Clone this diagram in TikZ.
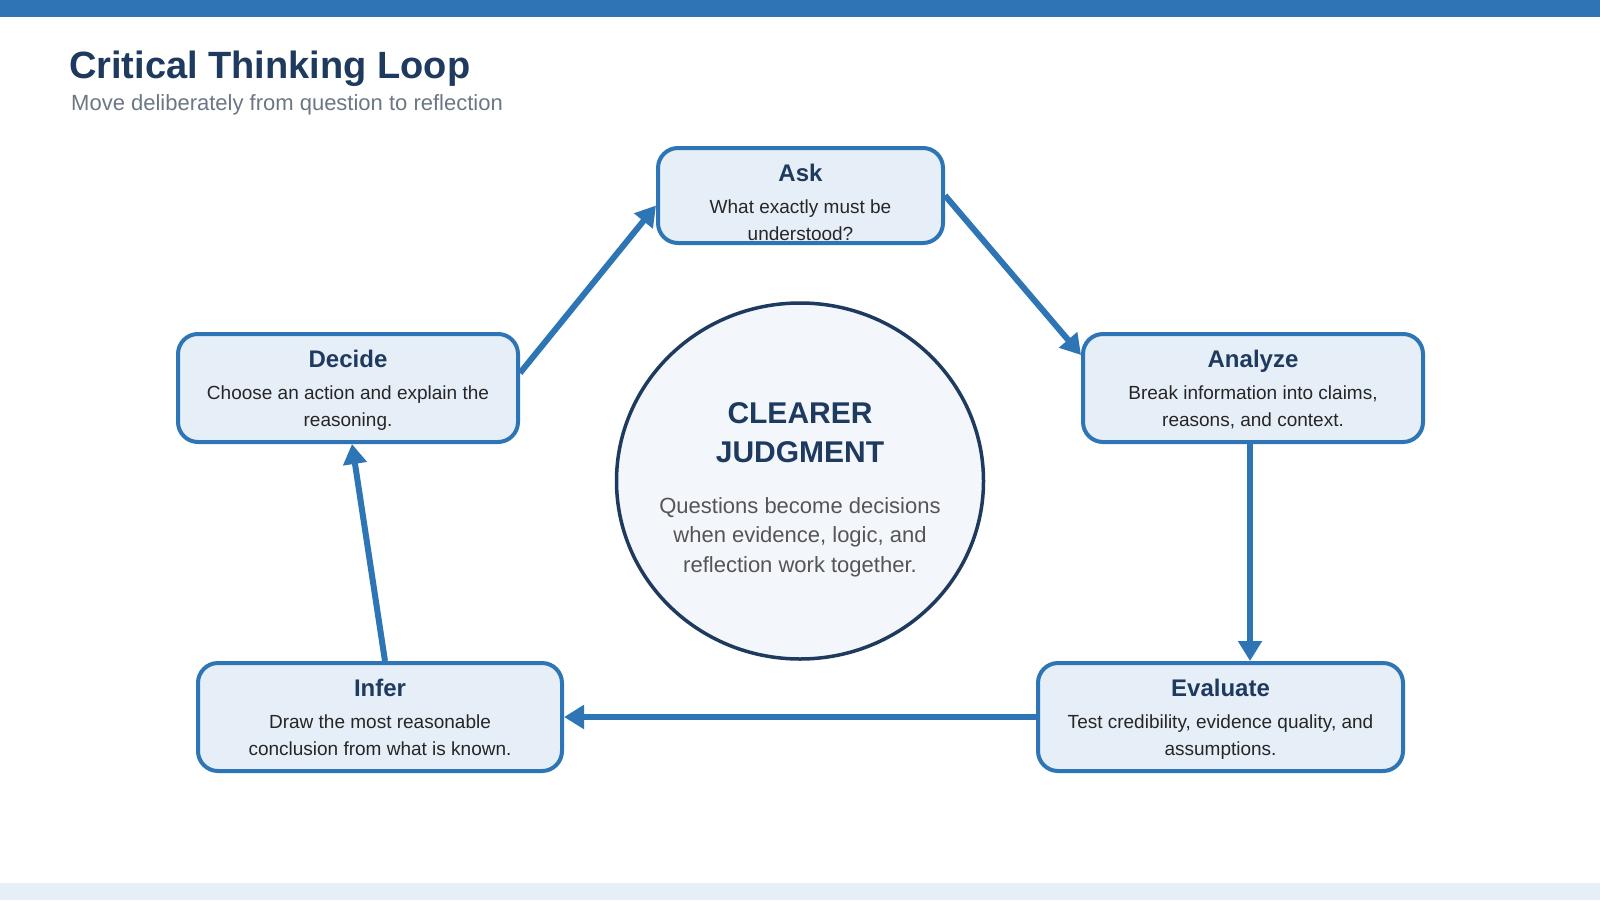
\documentclass[tikz,border=0pt]{standalone}
\usepackage{fontspec}
\setmainfont{Liberation Sans}
\usepackage{xcolor}
\usepackage{tikz}
\usetikzlibrary{shapes.geometric, positioning, calc, arrows.meta}

\definecolor{barblue}{HTML}{2E75B6}
\definecolor{navy}{HTML}{1F3A5F}
\definecolor{boxfill}{HTML}{E6EEF7}
\definecolor{hubfill}{HTML}{F3F6FA}
\definecolor{subgray}{HTML}{6B7785}
\definecolor{bodyink}{HTML}{262626}
\definecolor{hubgray}{HTML}{555555}

\begin{document}
\begin{tikzpicture}[
        x=1pt, y=-1pt,
        % Style for the five step boxes
        stepbox/.style={
            draw=barblue,
            fill=boxfill,
            line width=4pt,
            rounded corners=20pt,
            minimum width=340pt,
            minimum height=108pt,
            inner sep=0pt
        },
        % Style for the step names and descriptions
        % (base of a two line note is its last line)
        steptitle/.style={
            anchor=base,
            inner sep=0pt,
            text=navy,
            font=\fontsize{24}{29}\selectfont\bfseries
        },
        stepnote/.style={
            anchor=base,
            inner sep=0pt,
            align=center,
            text=bodyink,
            font=\fontsize{19}{27}\selectfont
        },
        % Style for the central circle and its texts
        hubcircle/.style={
            draw=navy,
            fill=hubfill,
            ellipse,
            line width=3.5pt,
            minimum width=367pt,
            minimum height=356pt,
            inner sep=0pt
        },
        hubtitle/.style={
            anchor=base,
            inner sep=0pt,
            align=center,
            text=navy,
            font=\fontsize{30}{39}\selectfont\bfseries
        },
        hubnote/.style={
            anchor=base,
            inner sep=0pt,
            align=center,
            text=hubgray,
            font=\fontsize{22}{29.5}\selectfont
        },
        % Style for the loop arrows
        flow/.style={
            draw=barblue,
            line width=6pt,
            -{Triangle[length=20pt, width=23pt]}
        }
    ]

    \useasboundingbox (0,0) rectangle (1600,900);
    \fill[white] (0,0) rectangle (1600,900);

    % ==========================================
    % PAGE BANDS AND HEADING
    % ==========================================
    \fill[barblue] (0,0) rectangle (1600,17);
    \fill[boxfill] (0,883) rectangle (1600,900);

    \node[anchor=base west, inner sep=0pt, text=navy,
          font=\fontsize{38}{46}\selectfont\bfseries] (title) at (69,78) {Critical Thinking Loop};
    \node[anchor=base west, inner sep=0pt, text=subgray,
          font=\fontsize{22}{26}\selectfont] (subtitle) at (71,110) {Move deliberately from question to reflection};

    % ==========================================
    % CENTRAL CIRCLE
    % ==========================================
    \node[hubcircle] (hub) at (800,481) {};
    \node[hubtitle] (hub-t) at (800,462) {CLEARER\\JUDGMENT};
    \node[hubnote] (hub-n) at (800,572) {Questions become decisions\\when evidence, logic, and\\reflection work together.};

    % ==========================================
    % STEP BOXES
    % ==========================================
    \node[stepbox, minimum width=285pt, minimum height=95pt] (ask) at (800.5,195.5) {};
    \node[stepbox] (analyze) at (1253,388) {};
    \node[stepbox, minimum width=365pt] (evaluate) at (1220.5,717) {};
    \node[stepbox, minimum width=364pt] (infer) at (380,717) {};
    \node[stepbox] (decide) at (348,388) {};

    \node[steptitle] (ask-t) at ($(ask.north)+(0,35.5)$) {Ask};
    \node[stepnote] (ask-n) at ($(ask.north)+(0,94)$) {What exactly must be\\understood?};

    \node[steptitle] (analyze-t) at ($(analyze.north)+(0,35.5)$) {Analyze};
    \node[stepnote] (analyze-n) at ($(analyze.north)+(0,94)$) {Break information into claims,\\reasons, and context.};

    \node[steptitle] (evaluate-t) at ($(evaluate.north)+(0,35.5)$) {Evaluate};
    \node[stepnote] (evaluate-n) at ($(evaluate.north)+(0,94)$) {Test credibility, evidence quality, and\\assumptions.};

    \node[steptitle] (infer-t) at ($(infer.north)+(0,35.5)$) {Infer};
    \node[stepnote] (infer-n) at ($(infer.north)+(0,94)$) {Draw the most reasonable\\conclusion from what is known.};

    \node[steptitle] (decide-t) at ($(decide.north)+(0,35.5)$) {Decide};
    \node[stepnote] (decide-n) at ($(decide.north)+(0,94)$) {Choose an action and explain the\\reasoning.};

    % ==========================================
    % LOOP ARROWS
    % ==========================================
    \coordinate (a2e) at ($(analyze.south)+(-3,0)$);
    \draw[flow] (ask.east) -- ($(analyze.north west)+(0,23)$);
    \draw[flow] (a2e) -- (a2e |- evaluate.north);
    \draw[flow] (evaluate.west) -- (infer.east);
    \draw[flow] ($(infer.north)+(5,0)$) -- ($(decide.south)+(4,0)$);
    \draw[flow] ($(decide.east)+(0,-15)$) -- ($(ask.west)+(0,10)$);

\end{tikzpicture}
\end{document}
